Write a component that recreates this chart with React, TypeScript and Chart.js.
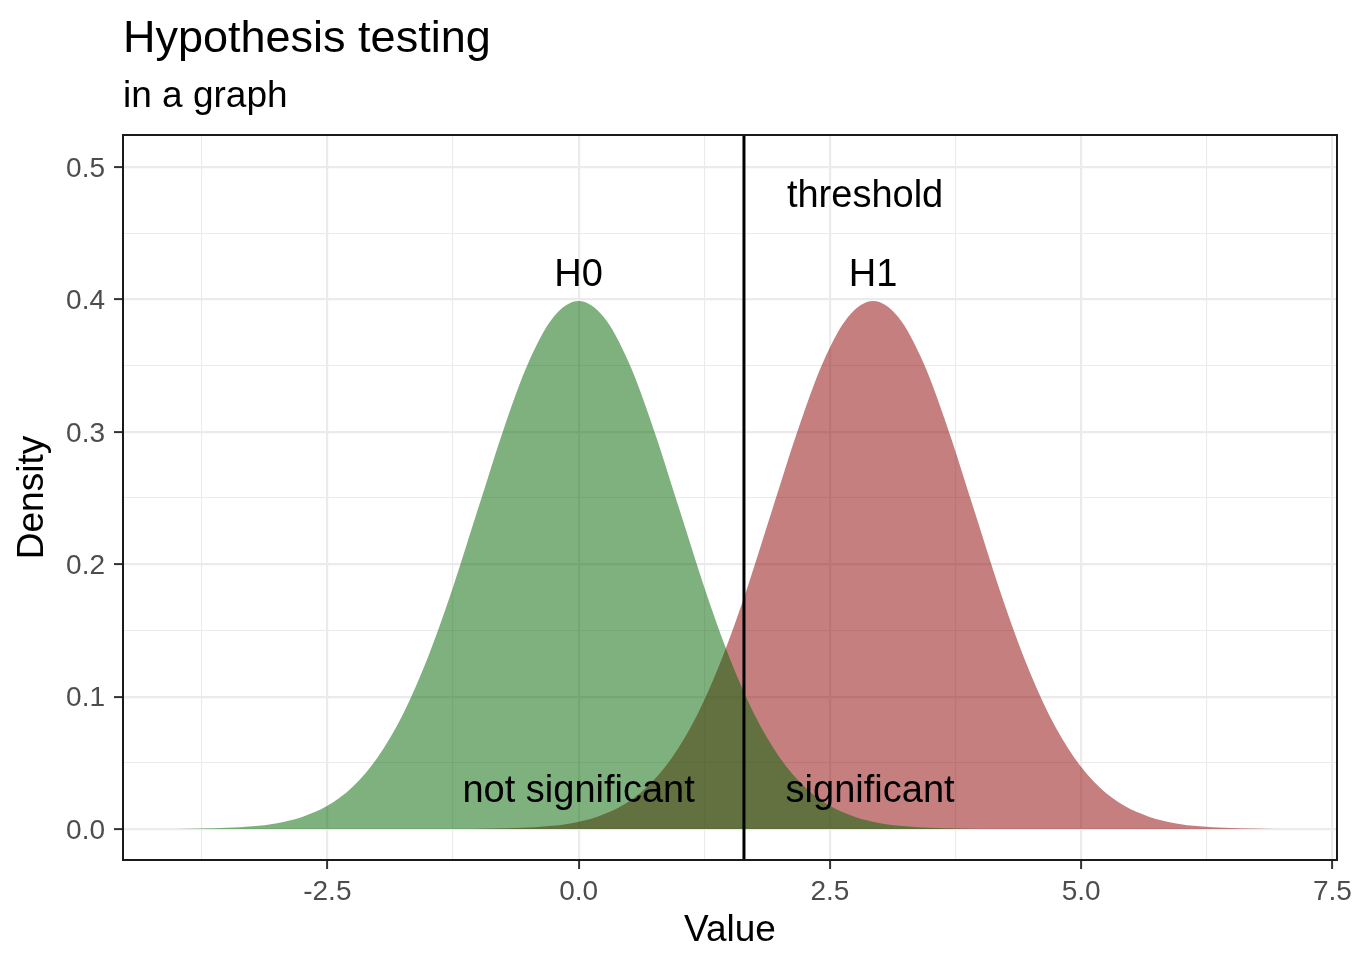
import React, { useEffect, useRef } from 'react';
import { Chart, registerables } from 'chart.js';

Chart.register(...registerables);

const chartTitle = 'Hypothesis testing';
const chartSubtitle = 'in a graph';
const xAxisTitle = 'Value';
const yAxisTitle = 'Density';

// H0: null distribution (green)
const h0X = [
  -4, -3.75, -3.5, -3.25, -3, -2.75, -2.5, -2.25, -2, -1.75, -1.5, -1.25, -1, -0.75, -0.5, -0.25,
  0, 0.25, 0.5, 0.75, 1, 1.25, 1.5, 1.75, 2, 2.25, 2.5, 2.75, 3, 3.25, 3.5, 3.75, 4,
];
const h0Density = [
  0.0001, 0.0004, 0.0009, 0.002, 0.0044, 0.0091, 0.0175, 0.0317, 0.054, 0.0863, 0.1295, 0.1826, 0.242, 0.3011, 0.3521, 0.3867,
  0.3989, 0.3867, 0.3521, 0.3011, 0.242, 0.1826, 0.1295, 0.0863, 0.054, 0.0317, 0.0175, 0.0091, 0.0044, 0.002, 0.0009, 0.0004, 0.0001,
];

// H1: alternative distribution (red)
const h1X = [
  -1.07, -0.82, -0.57, -0.32, -0.07, 0.18, 0.43, 0.68, 0.93, 1.18, 1.43, 1.68, 1.93, 2.18, 2.43, 2.68,
  2.93, 3.18, 3.43, 3.68, 3.93, 4.18, 4.43, 4.68, 4.93, 5.18, 5.43, 5.68, 5.93, 6.18, 6.43, 6.68, 6.93,
];
const h1Density = [
  0.0001, 0.0004, 0.0009, 0.002, 0.0044, 0.0091, 0.0175, 0.0317, 0.054, 0.0863, 0.1295, 0.1826, 0.242, 0.3011, 0.3521, 0.3867,
  0.3989, 0.3867, 0.3521, 0.3011, 0.242, 0.1826, 0.1295, 0.0863, 0.054, 0.0317, 0.0175, 0.0091, 0.0044, 0.002, 0.0009, 0.0004, 0.0001,
];

const thresholdValue = 1.645;

const xMajorTicks = [-2.5, 0, 2.5, 5, 7.5];
const xTickLabels = ['-2.5', '0.0', '2.5', '5.0', '7.5'];
const xMinorTicks = [-3.75, -1.25, 1.25, 3.75, 6.25];
const yMajorTicks = [0, 0.1, 0.2, 0.3, 0.4, 0.5];
const yTickLabels = ['0.0', '0.1', '0.2', '0.3', '0.4', '0.5'];
const yMinorTicks = [0.05, 0.15, 0.25, 0.35, 0.45];

const labelTexts = ['H0', 'H1', 'threshold', 'not significant', 'significant'];
const labelX = [0, 2.93, 2.85, 0, 2.9];
const labelY = [0.418, 0.418, 0.478, 0.028, 0.028];

const FONT = "'Liberation Sans', Arial, Helvetica, sans-serif";

const near = (a: number, b: number) => Math.abs(a - b) < 1e-9;
const majorIndex = (list: number[], v: number) => list.findIndex((m) => near(m, v));

const overlayPlugin = {
  id: 'overlay',
  afterDatasetsDraw(chart: any) {
    const { ctx, chartArea, scales } = chart;
    const xs = scales.x;
    const ys = scales.y;
    ctx.save();
    // threshold line
    const tx = xs.getPixelForValue(thresholdValue);
    ctx.strokeStyle = '#000';
    ctx.lineWidth = 3;
    ctx.beginPath();
    ctx.moveTo(tx, chartArea.top);
    ctx.lineTo(tx, chartArea.bottom);
    ctx.stroke();
    // annotations
    ctx.fillStyle = '#000';
    ctx.font = `38px ${FONT}`;
    ctx.textAlign = 'center';
    ctx.textBaseline = 'middle';
    labelTexts.forEach((t, i) => {
      ctx.fillText(t, xs.getPixelForValue(labelX[i]), ys.getPixelForValue(labelY[i]));
    });
    // panel border
    ctx.strokeStyle = '#1a1a1a';
    ctx.lineWidth = 2;
    ctx.strokeRect(chartArea.left, chartArea.top, chartArea.right - chartArea.left, chartArea.bottom - chartArea.top);
    ctx.restore();
  },
  afterDraw(chart: any) {
    const { ctx, chartArea } = chart;
    ctx.save();
    ctx.fillStyle = '#000';
    ctx.textAlign = 'left';
    ctx.textBaseline = 'alphabetic';
    ctx.font = `45px ${FONT}`;
    ctx.fillText(chartTitle, 123, 52);
    ctx.font = `37px ${FONT}`;
    ctx.fillText(chartSubtitle, 123, 107);
    ctx.font = `37px ${FONT}`;
    ctx.textAlign = 'center';
    ctx.textBaseline = 'middle';
    ctx.fillText(xAxisTitle, (chartArea.left + chartArea.right) / 2, 931);
    ctx.translate(33, (chartArea.top + chartArea.bottom) / 2);
    ctx.rotate(-Math.PI / 2);
    ctx.fillText(yAxisTitle, 0, 0);
    ctx.restore();
  },
};

export default function App() {
  const canvasRef = useRef<HTMLCanvasElement | null>(null);

  useEffect(() => {
    document.body.style.margin = '0';
    const canvas = canvasRef.current;
    if (!canvas) return;
    const h0Points = h0X.map((x, i) => ({ x, y: h0Density[i] }));
    const h1Points = h1X.map((x, i) => ({ x, y: h1Density[i] }));

    const gridWidth = (list: number[]) => (c: any) =>
      c.tick && majorIndex(list, c.tick.value) >= 0 ? 2.2 : 1.1;
    const tickColor = (list: number[]) => (c: any) =>
      c.tick && majorIndex(list, c.tick.value) >= 0 ? '#333333' : 'rgba(0,0,0,0)';

    const chart = new Chart(canvas, {
      type: 'line',
      data: {
        datasets: [
          {
            label: 'H0',
            data: h0Points,
            backgroundColor: 'rgba(0,100,0,0.5)',
            borderWidth: 0,
            pointRadius: 0,
            fill: 'origin',
            cubicInterpolationMode: 'monotone',
            order: 0,
          },
          {
            label: 'H1',
            data: h1Points,
            backgroundColor: 'rgba(139,0,0,0.5)',
            borderWidth: 0,
            pointRadius: 0,
            fill: 'origin',
            cubicInterpolationMode: 'monotone',
            order: 1,
          },
        ],
      },
      options: {
        animation: false,
        responsive: false,
        maintainAspectRatio: false,
        events: [],
        layout: { padding: { left: 0, top: 135, right: 20, bottom: 0 } },
        plugins: {
          legend: { display: false },
          title: { display: false },
          tooltip: { enabled: false },
        },
        scales: {
          x: {
            type: 'linear',
            min: -4.533,
            max: 7.545,
            border: { display: false },
            afterBuildTicks: (scale: any) => {
              scale.ticks = [...xMajorTicks, ...xMinorTicks].sort((a, b) => a - b).map((v) => ({ value: v }));
            },
            afterFit: (scale: any) => {
              scale.height = 110;
            },
            grid: {
              color: '#EBEBEB',
              lineWidth: gridWidth(xMajorTicks),
              tickColor: tickColor(xMajorTicks),
              tickWidth: 2,
              tickLength: 9,
              drawTicks: true,
            },
            ticks: {
              autoSkip: false,
              maxRotation: 0,
              minRotation: 0,
              padding: 6,
              color: '#4D4D4D',
              font: { family: FONT, size: 28 },
              callback: (v: any) => {
                const i = majorIndex(xMajorTicks, Number(v));
                return i >= 0 ? xTickLabels[i] : '';
              },
            },
          },
          y: {
            type: 'linear',
            min: -0.0234,
            max: 0.5242,
            border: { display: false },
            afterBuildTicks: (scale: any) => {
              scale.ticks = [...yMajorTicks, ...yMinorTicks].sort((a, b) => a - b).map((v) => ({ value: v }));
            },
            afterFit: (scale: any) => {
              scale.width = 123;
            },
            grid: {
              color: '#EBEBEB',
              lineWidth: gridWidth(yMajorTicks),
              tickColor: tickColor(yMajorTicks),
              tickWidth: 2,
              tickLength: 9,
              drawTicks: true,
            },
            ticks: {
              autoSkip: false,
              padding: 9,
              labelOffset: 2,
              color: '#4D4D4D',
              font: { family: FONT, size: 28 },
              callback: (v: any) => {
                const i = majorIndex(yMajorTicks, Number(v));
                return i >= 0 ? yTickLabels[i] : '';
              },
            },
          },
        },
      },
      plugins: [overlayPlugin],
    } as any);

    return () => chart.destroy();
  }, []);

  return (
    <div style={{ position: 'absolute', left: 0, top: 0, width: 1358, height: 970, background: '#fff' }}>
      <canvas ref={canvasRef} width={1358} height={970} style={{ display: 'block' }} />
    </div>
  );
}
